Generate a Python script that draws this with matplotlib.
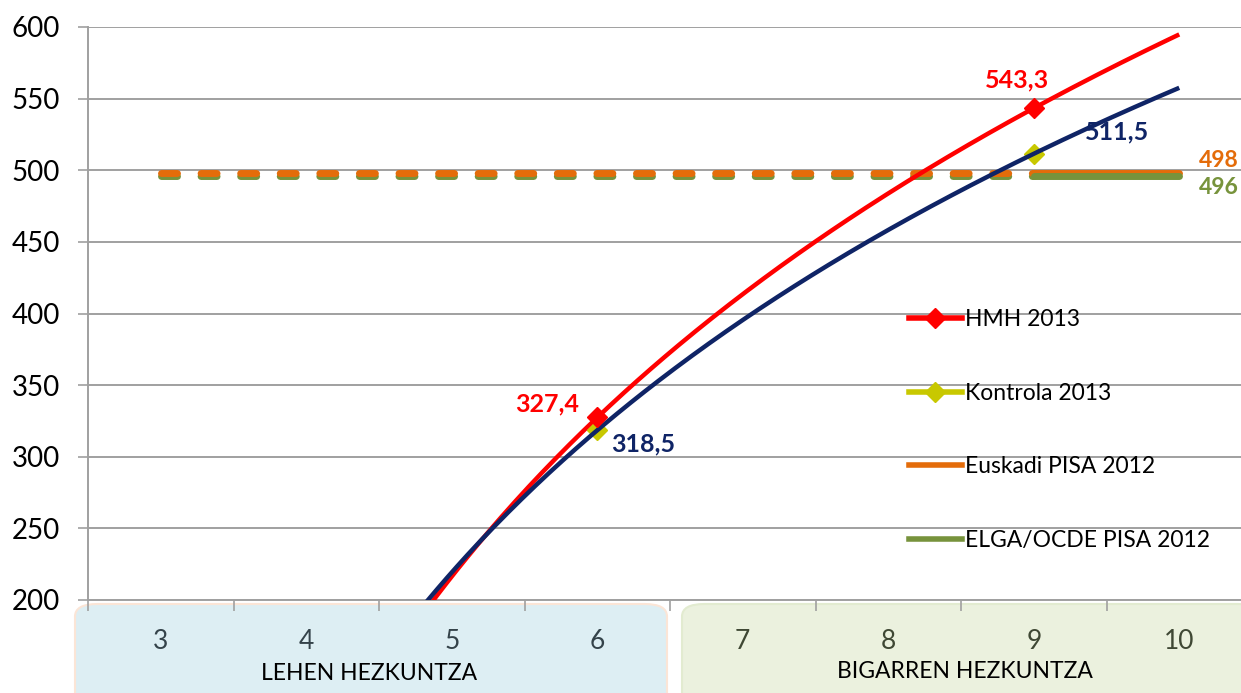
import numpy as np
import matplotlib.pyplot as plt
from matplotlib.lines import Line2D
from matplotlib.patches import FancyBboxPatch

plt.rcParams['font.family'] = ['Lato', 'DejaVu Sans']

# data
grades = ['3', '4', '5', '6', '7', '8', '9', '10']
stages = ['LEHEN HEZKUNTZA', 'BIGARREN HEZKUNTZA']
hmh_grades = [6, 9]
hmh_vals = [327.4, 543.3]
kontrola_grades = [6, 9]
kontrola_vals = [318.5, 511.5]
euskadi_pisa = [498] * 8
elga_pisa = [496] * 8

RED = '#FF0000'
NAVY = '#0F2466'
YELLOW = '#C8C800'
ORANGE = '#E46C0A'
GREEN = '#77933C'

fig = plt.figure(figsize=(12.41, 6.93), dpi=100)
W, H = 1241, 693
ax = fig.add_axes([88 / W, (H - 600) / H, (1252 - 88) / W, 573 / H])

xpos = np.arange(len(grades))


def idx(g):
    return grades.index(str(g))


# Excel-style logarithmic trend lines (x = category number 1..8)
def log_trend(gs, vals):
    xs = np.array([idx(g) + 1 for g in gs], dtype=float)
    a, b = np.polyfit(np.log(xs), vals, 1)
    xx = np.linspace(1, len(grades), 300)
    return xx - 1, a * np.log(xx) + b


tx, ty = log_trend(kontrola_grades, kontrola_vals)
ax.plot(tx, ty, color=NAVY, lw=3.2, zorder=4, solid_capstyle='butt')
tx, ty = log_trend(hmh_grades, hmh_vals)
ax.plot(tx, ty, color=RED, lw=3.2, zorder=3, solid_capstyle='butt')

# PISA reference lines: dashed up to 9, solid 9-10
k = idx(9)
ax.plot(xpos[:k + 1], elga_pisa[:k + 1], color=GREEN, lw=5, dashes=(2.3, 3.4),
        dash_capstyle='round', zorder=2)
ax.plot(xpos[:k + 1], euskadi_pisa[:k + 1], color=ORANGE, lw=5, dashes=(2.3, 3.4),
        dash_capstyle='round', zorder=2.1)
ax.plot(xpos[k:], euskadi_pisa[k:], color=ORANGE, lw=5, solid_capstyle='round', zorder=2)
ax.plot(xpos[k:], elga_pisa[k:], color=GREEN, lw=5, solid_capstyle='round', zorder=2.1)

# data markers
ax.plot([idx(g) for g in kontrola_grades], kontrola_vals, 'D', color=YELLOW, ms=10,
        mec=YELLOW, zorder=3.5, ls='none')
ax.plot([idx(g) for g in hmh_grades], hmh_vals, 'D', color=RED, ms=10, zorder=5, ls='none')

# data labels
lab = dict(fontsize=18, fontweight='bold', zorder=6)
ax.annotate('327,4', (idx(6), hmh_vals[0]), xytext=(-50, 14), textcoords='offset pixels',
            ha='center', va='center', color=RED, **lab)
ax.annotate('543,3', (idx(9), hmh_vals[1]), xytext=(-17, 28), textcoords='offset pixels',
            ha='center', va='center', color=RED, **lab)
ax.annotate('318,5', (idx(6), kontrola_vals[0]), xytext=(46, -14), textcoords='offset pixels',
            ha='center', va='center', color=NAVY, **lab)
ax.annotate('511,5', (idx(9), kontrola_vals[1]), xytext=(83, 22), textcoords='offset pixels',
            ha='center', va='center', color=NAVY, **lab)
edge = dict(fontsize=16.5, fontweight='bold', zorder=6)
ax.annotate('498', (idx(10), euskadi_pisa[-1]), xytext=(20, 13), textcoords='offset pixels',
            ha='left', va='center', color=ORANGE, annotation_clip=False, **edge)
ax.annotate('496', (idx(10), elga_pisa[-1]), xytext=(20, -12), textcoords='offset pixels',
            ha='left', va='center', color=GREEN, annotation_clip=False, **edge)

# axes styling
ax.set_xlim(-0.5, len(grades) - 0.5)
ax.set_ylim(200, 600)
ax.set_yticks(range(200, 601, 50))
ax.grid(axis='y', color='#A0A0A0', lw=1.4)
ax.set_axisbelow(True)
for s in ['top', 'right']:
    ax.spines[s].set_visible(False)
ax.spines['left'].set_color('#A0A0A0')
ax.spines['bottom'].set_color('#A0A0A0')
ax.spines['left'].set_linewidth(1.4)
ax.spines['bottom'].set_linewidth(1.4)
ax.tick_params(axis='y', length=7, width=1.2, color='#A0A0A0', pad=13, labelsize=20)
ax.set_xticks(xpos)
ax.set_xticklabels(grades, fontsize=19)
ax.tick_params(axis='x', length=0, pad=21)
for i, t in enumerate(ax.get_xticklabels()):
    t.set_color('#34434A' if i < 4 else '#3F4834')
ax.set_xticks(np.arange(-0.5, len(grades), 1), minor=True)
ax.tick_params(axis='x', which='minor', length=8, width=1.2, color='#A0A0A0')

# stage boxes under the axis
box1 = FancyBboxPatch((75 / W, -0.05), (667 - 75) / W, (H - 604) / H + 0.05,
                      boxstyle='round,pad=0,rounding_size=0.018', transform=fig.transFigure,
                      fc='#DDEEF3', ec='#FBE5D6', lw=1.5, zorder=-1)
box2 = FancyBboxPatch((682 / W, -0.05), (1260 - 682) / W, (H - 604) / H + 0.05,
                      boxstyle='round,pad=0,rounding_size=0.018', transform=fig.transFigure,
                      fc='#EBF1DE', ec='#E2EBD0', lw=1.5, zorder=-1)
fig.patches.extend([box1, box2])
fig.text(369 / W, 1 - 674 / H, stages[0], ha='center', va='center', fontsize=16.5)
fig.text(965 / W, 1 - 671 / H, stages[1], ha='center', va='center', fontsize=16.5)

# legend
handles = [
    Line2D([], [], color=RED, lw=4, marker='D', ms=10),
    Line2D([], [], color=YELLOW, lw=4, marker='D', ms=10),
    Line2D([], [], color=ORANGE, lw=4),
    Line2D([], [], color=GREEN, lw=4),
]
labels = ['HMH 2013', 'Kontrola 2013', 'Euskadi PISA 2012', 'ELGA/OCDE PISA 2012']
fig.legend(handles, labels, loc='upper left', bbox_to_anchor=(909 / W, 1 - 309 / H),
           frameon=False, fontsize=16.5, handlelength=2.3, handletextpad=0.15,
           labelspacing=2.3, borderpad=0, borderaxespad=0)

fig.savefig('out.png', dpi=100)
